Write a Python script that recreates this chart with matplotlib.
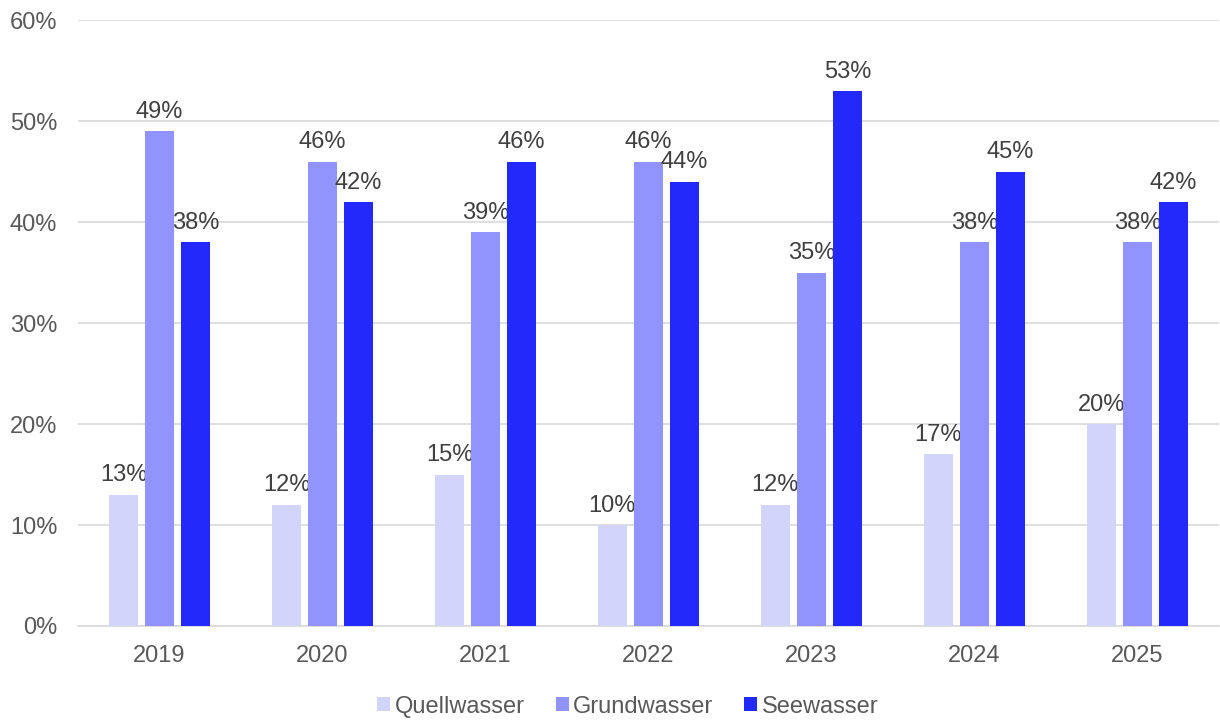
import matplotlib.pyplot as plt
import numpy as np

plt.rcParams['font.family'] = ['Liberation Sans', 'DejaVu Sans']

years = ['2019', '2020', '2021', '2022', '2023', '2024', '2025']
quellwasser = [13, 12, 15, 10, 12, 17, 20]
grundwasser = [49, 46, 39, 46, 35, 38, 38]
seewasser = [38, 42, 46, 44, 53, 45, 42]

series = [('Quellwasser', quellwasser, '#D3D4FB'),
          ('Grundwasser', grundwasser, '#9194FD'),
          ('Seewasser', seewasser, '#2328FB')]

fig = plt.figure(figsize=(12.2, 7.22), dpi=100)
ax = fig.add_axes([0.064, 0.133, 0.935, 0.839])

x = np.arange(len(years))
width = 0.178
step = 0.221
for i, (name, vals, col) in enumerate(series):
    pos = x + (i - 1) * step
    ax.bar(pos, vals, width, color=col, label=name, zorder=3)
    for xp, v in zip(pos, vals):
        ax.annotate('%d%%' % v, (xp, v), xytext=(0, 6), textcoords='offset points',
                    ha='center', va='bottom', fontsize=17, color='#404040')

ax.set_xlim(-0.5, len(years) - 0.5)
ax.set_ylim(0, 60)
ax.set_yticks(range(0, 61, 10))
ax.set_yticklabels(['%d%%' % t for t in range(0, 61, 10)])
ax.set_xticks(x)
ax.set_xticklabels(years)
ax.tick_params(axis='both', length=0, labelsize=17, colors='#595959')
ax.tick_params(axis='y', pad=15)
ax.tick_params(axis='x', pad=14)
ax.grid(axis='y', color='#D9D9D9', linewidth=1.2, zorder=0)
for s in ['top', 'right', 'left']:
    ax.spines[s].set_visible(False)
ax.spines['bottom'].set_color('#D9D9D9')
ax.spines['bottom'].set_linewidth(1.2)

leg = ax.legend(loc='upper center', bbox_to_anchor=(0.482, -0.08), ncol=3, frameon=False,
                fontsize=17, handlelength=0.55, handleheight=0.55, handletextpad=0.2,
                columnspacing=1.3)
for t in leg.get_texts():
    t.set_color('#595959')

fig.savefig('out.png', dpi=100)
